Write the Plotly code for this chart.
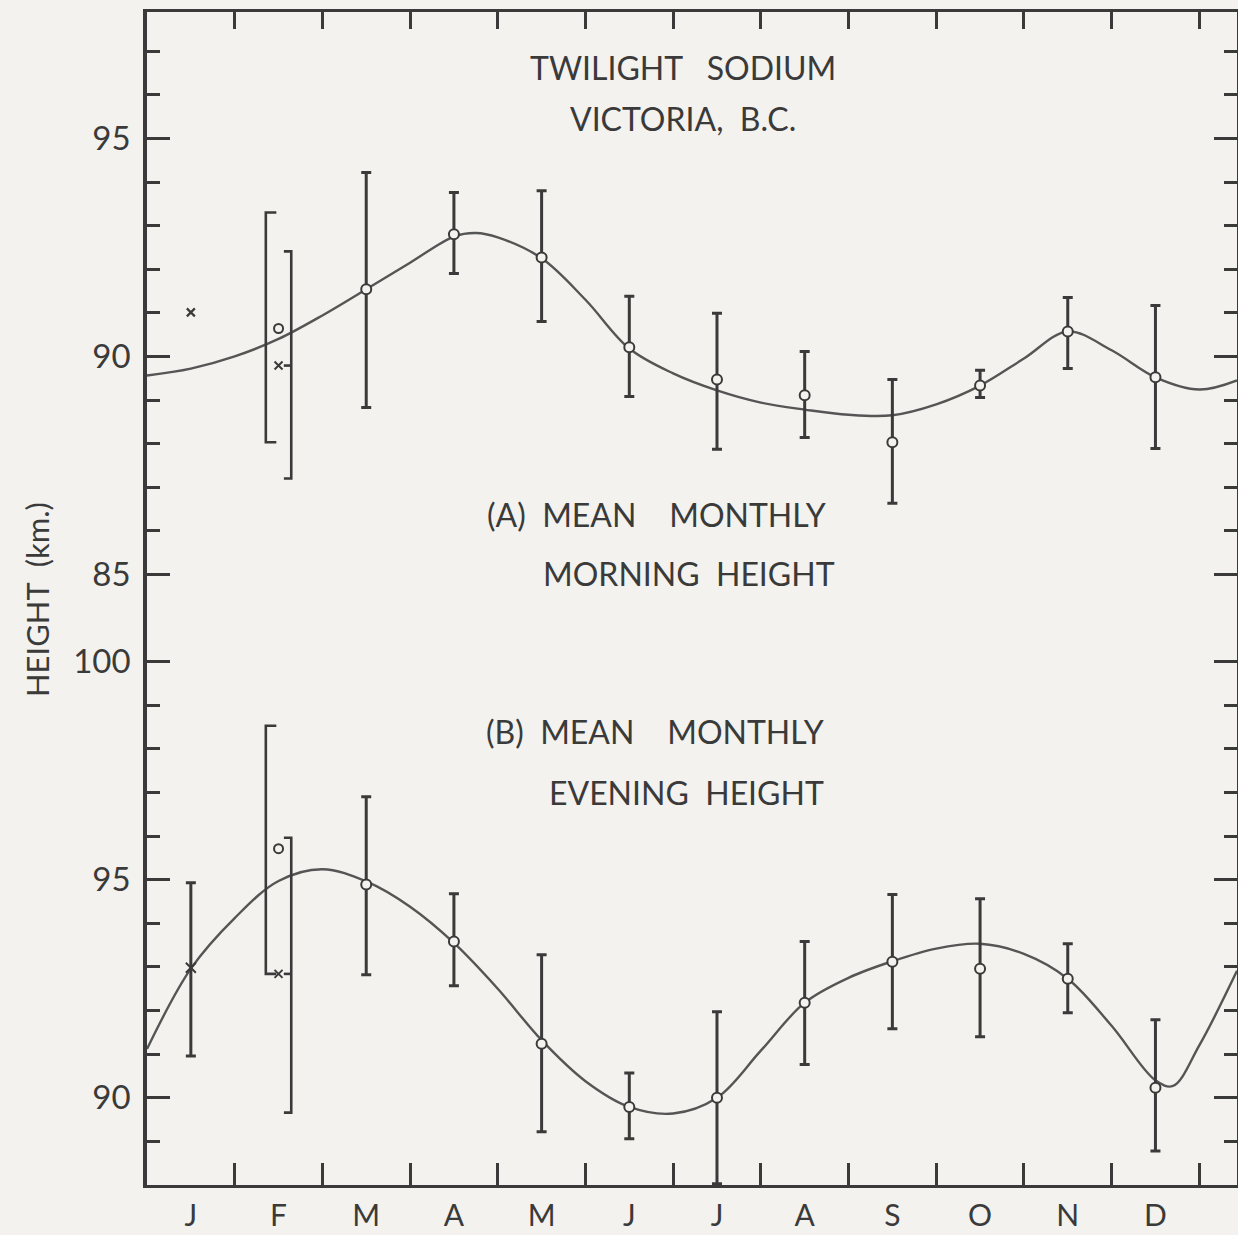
import plotly.graph_objects as go

# ---------------- data ----------------
MONTHS = ["J", "F", "M", "A", "M", "J", "J", "A", "S", "O", "N", "D"]
MONTH_POS = list(range(12))
MONTH_BOUNDS = [m + 0.5 for m in range(12)]

# (A) morning heights, months M..D (index 2..11)
morn_months = [2, 3, 4, 5, 6, 7, 8, 9, 10, 11]
morn_mean = [91.54, 92.80, 92.27, 90.21, 89.47, 89.11, 88.03, 89.33, 90.57, 89.52]
morn_hi = [94.22, 93.76, 93.80, 91.38, 90.99, 90.11, 89.47, 89.68, 91.35, 91.17]
morn_lo = [88.83, 91.90, 90.80, 89.08, 87.87, 88.14, 86.63, 89.06, 89.72, 87.89]
morn_jan_x = 91.01
morn_feb_o, morn_feb_o_lo, morn_feb_o_hi = 90.64, 88.03, 93.30
morn_feb_x, morn_feb_x_lo, morn_feb_x_hi = 89.79, 87.20, 92.41

morn_curve_x = [-0.5, 0, 0.5, 1, 1.5, 2, 2.5, 3, 3.25, 3.5, 4, 4.5, 5, 5.5, 6, 6.5,
                7, 7.5, 8, 8.5, 9, 9.5, 10, 10.5, 11, 11.5, 11.93]
morn_curve_y = [89.56, 89.72, 90.00, 90.40, 90.94, 91.54, 92.15, 92.75, 92.83, 92.73,
                92.25, 91.30, 90.18, 89.61, 89.22, 88.94, 88.78, 88.66, 88.65, 88.90,
                89.33, 89.95, 90.57, 90.14, 89.52, 89.24, 89.45]

# (B) evening heights
eve_months = [2, 3, 4, 5, 6, 7, 8, 9, 10, 11]
eve_mean = [94.89, 93.58, 91.24, 89.79, 90.00, 92.18, 93.12, 92.96, 92.73, 90.23]
eve_hi = [96.90, 94.68, 93.28, 90.57, 91.97, 93.58, 94.66, 94.56, 93.53, 91.79]
eve_lo = [92.82, 92.57, 89.22, 89.06, 88.03, 90.76, 91.58, 91.40, 91.95, 88.78]
eve_jan_x, eve_jan_lo, eve_jan_hi = 92.98, 90.96, 94.93
eve_feb_o, eve_feb_o_lo, eve_feb_o_hi = 95.71, 92.84, 98.53
eve_feb_x, eve_feb_x_lo, eve_feb_x_hi = 92.84, 89.66, 95.96

eve_curve_x = [-0.5, 0, 0.5, 1, 1.5, 2, 2.5, 3, 3.5, 4, 4.5, 5, 5.5, 6, 6.5, 7, 7.5,
               8, 8.5, 9, 9.5, 10, 10.5, 11, 11.2, 11.5, 11.93]
eve_curve_y = [91.12, 92.96, 94.12, 94.97, 95.24, 94.96, 94.38, 93.55, 92.50, 91.32,
               90.38, 89.79, 89.64, 90.00, 91.08, 92.18, 92.75, 93.13, 93.42, 93.53,
               93.30, 92.73, 91.65, 90.40, 90.27, 91.20, 92.91]

MORN_MAJOR = [85, 90, 95]
MORN_MINOR = [86, 87, 88, 89, 91, 92, 93, 94, 96, 97]
EVE_MAJOR = [90, 95, 100]
EVE_MINOR = [89, 91, 92, 93, 94, 96, 97, 98, 99]

TITLE_LINES = ["TWILIGHT   SODIUM", "VICTORIA,  B.C."]
PANEL_A = ["(A)  MEAN    MONTHLY", "MORNING  HEIGHT"]
PANEL_B = ["(B)  MEAN    MONTHLY", "EVENING  HEIGHT"]
Y_TITLE = "HEIGHT  (km.)"

# ---------------- style ----------------
BG = "#f3f2ee"
INK = "#3a3a3a"
CURVE = "#555555"
FONT = "Lato"
FEB = 1
BR_OFF = 0.145
BR_SERIF = 0.12

fig = go.Figure()


def add_panel(xa, ya, cx, cy, months, mean, hi, lo, feb_o, feb_o_lo, feb_o_hi,
              feb_x, feb_x_lo, feb_x_hi):
    fig.add_trace(go.Scatter(x=cx, y=cy, mode="lines", xaxis=xa, yaxis=ya,
                             line=dict(color=CURVE, width=2.4, shape="spline", smoothing=1.0),
                             hoverinfo="skip", showlegend=False))
    # brackets around F values
    lx = FEB - BR_OFF
    rx = FEB + BR_OFF
    bx = [lx + BR_SERIF, lx, lx, lx + BR_SERIF, None,
          rx - BR_SERIF * 0.7, rx, rx, rx - BR_SERIF * 0.7, None,
          FEB + 0.06, rx]
    by = [feb_o_hi, feb_o_hi, feb_o_lo, feb_o_lo, None,
          feb_x_hi, feb_x_hi, feb_x_lo, feb_x_lo, None,
          feb_x, feb_x]
    fig.add_trace(go.Scatter(x=bx, y=by, mode="lines", xaxis=xa, yaxis=ya,
                             line=dict(color=INK, width=2.6), hoverinfo="skip",
                             showlegend=False))
    fig.add_trace(go.Scatter(
        x=months, y=mean, mode="markers", xaxis=xa, yaxis=ya,
        error_y=dict(type="data", symmetric=False,
                     array=[h - m for h, m in zip(hi, mean)],
                     arrayminus=[m - l for m, l in zip(mean, lo)],
                     color=INK, thickness=3, width=5),
        marker=dict(symbol="circle", size=10, color=BG, line=dict(color=INK, width=2)),
        showlegend=False))
    fig.add_trace(go.Scatter(
        x=[FEB], y=[feb_o], mode="markers", xaxis=xa, yaxis=ya,
        marker=dict(symbol="circle", size=9, color=BG, line=dict(color=INK, width=2)),
        showlegend=False))
    fig.add_trace(go.Scatter(
        x=[FEB], y=[feb_x], mode="markers", xaxis=xa, yaxis=ya,
        marker=dict(symbol="x-thin", size=8, line=dict(color=INK, width=2)),
        showlegend=False))


# bottom panel (B) on x/y
add_panel("x", "y", eve_curve_x, eve_curve_y, eve_months, eve_mean, eve_hi, eve_lo,
          eve_feb_o, eve_feb_o_lo, eve_feb_o_hi, eve_feb_x, eve_feb_x_lo, eve_feb_x_hi)
fig.add_trace(go.Scatter(
    x=[0], y=[eve_jan_x], mode="markers", xaxis="x", yaxis="y",
    error_y=dict(type="data", symmetric=False, array=[eve_jan_hi - eve_jan_x],
                 arrayminus=[eve_jan_x - eve_jan_lo], color=INK, thickness=3, width=5),
    marker=dict(symbol="x-thin", size=10, line=dict(color=INK, width=2)),
    showlegend=False))

# top panel (A) on x2/y2
add_panel("x2", "y2", morn_curve_x, morn_curve_y, morn_months, morn_mean, morn_hi, morn_lo,
          morn_feb_o, morn_feb_o_lo, morn_feb_o_hi, morn_feb_x, morn_feb_x_lo, morn_feb_x_hi)
fig.add_trace(go.Scatter(
    x=[0], y=[morn_jan_x], mode="markers", xaxis="x2", yaxis="y2",
    marker=dict(symbol="x-thin", size=8, line=dict(color=INK, width=2.2)),
    showlegend=False))

XR = [-0.5, 11.93]
SPLIT = 0.4834

fig.update_layout(
    width=1238, height=1235,
    margin=dict(l=147, r=1, t=12, b=50, autoexpand=False),
    paper_bgcolor=BG, plot_bgcolor=BG,
    font=dict(family=FONT, color=INK),
    xaxis=dict(domain=[0, 1], anchor="y", range=XR, showline=True, linecolor=INK,
               linewidth=3, tickmode="array", tickvals=MONTH_POS, ticktext=MONTHS,
               ticks="", showgrid=False, zeroline=False, ticklabelstandoff=2,
               automargin=False,
               tickfont=dict(size=30, family=FONT, color=INK),
               minor=dict(tickmode="array", tickvals=MONTH_BOUNDS, ticks="inside",
                          ticklen=22, tickwidth=3, tickcolor=INK, showgrid=False)),
    xaxis2=dict(domain=[0, 1], anchor="y2", side="top", range=XR, showline=True,
                linecolor=INK, linewidth=3, tickmode="array", tickvals=MONTH_BOUNDS,
                ticks="inside", ticklen=17, tickwidth=3, tickcolor=INK, automargin=False,
                showticklabels=False, showgrid=False, zeroline=False),
    yaxis=dict(domain=[0, SPLIT], anchor="x", range=[88, 101], showline=True,
               linecolor=INK, linewidth=3.5, mirror="ticks", tickmode="array",
               tickvals=EVE_MAJOR, ticktext=[str(v) for v in EVE_MAJOR], ticks="inside",
               ticklen=23, tickwidth=2.5, tickcolor=INK, showgrid=False, zeroline=False,
               ticklabelstandoff=6, automargin=False,
               tickfont=dict(size=33, family=FONT, color=INK),
               minor=dict(tickmode="array", tickvals=EVE_MINOR, ticks="inside",
                          ticklen=13, tickwidth=2.5, tickcolor=INK, showgrid=False)),
    yaxis2=dict(domain=[SPLIT, 1], anchor="x2", range=[84, 97.9], showline=True,
                linecolor=INK, linewidth=3.5, mirror="ticks", tickmode="array",
                tickvals=MORN_MAJOR, ticktext=[str(v) for v in MORN_MAJOR], ticks="inside",
                ticklen=23, tickwidth=2.5, tickcolor=INK, showgrid=False, zeroline=False,
                ticklabelstandoff=6, automargin=False,
                tickfont=dict(size=33, family=FONT, color=INK),
                minor=dict(tickmode="array", tickvals=MORN_MINOR, ticks="inside",
                           ticklen=13, tickwidth=2.5, tickcolor=INK, showgrid=False)),
)

TXT = dict(size=32, family=FONT, color=INK)
ann = [
    (TITLE_LINES[0], 0.4917, 0.9523),
    (TITLE_LINES[1], 0.4917, 0.9088),
    (PANEL_A[0], 0.467, 0.572),
    (PANEL_A[1], 0.4972, 0.5209),
    (PANEL_B[0], 0.4665, 0.387),
    (PANEL_B[1], 0.4954, 0.3342),
]
for t, ax_, ay_ in ann:
    fig.add_annotation(text=t, x=ax_, y=ay_, xref="paper", yref="paper",
                       xanchor="center", yanchor="middle", showarrow=False, font=TXT)
fig.add_annotation(text=Y_TITLE, x=-0.1009, y=0.4987, xref="paper", yref="paper",
                   xanchor="center", yanchor="middle", textangle=-90, showarrow=False,
                   font=dict(size=31, family=FONT, color=INK))

fig.write_html("out.html")
